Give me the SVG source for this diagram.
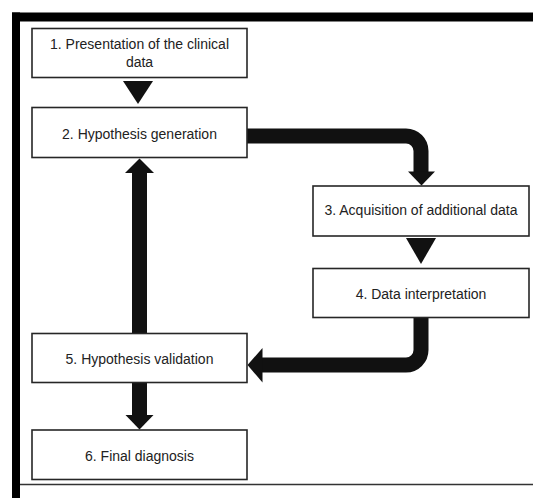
<svg xmlns="http://www.w3.org/2000/svg" width="533" height="498" viewBox="0 0 533 498">
<style>
.box{fill:#fff;stroke:#262626;stroke-width:1.6}
.t{font-family:"Liberation Sans",Arial,sans-serif;font-size:14px;fill:#222;text-anchor:middle}
.shaft{fill:none;stroke:#111;stroke-width:15}
.head{fill:#111}
</style>
<rect width="533" height="498" fill="#fff"/>
<g id="frame">
<rect x="12" y="12.5" width="521" height="9" fill="#000"/>
<rect x="12" y="12.5" width="8" height="486" fill="#000"/>
<line x1="20" y1="484.5" x2="533" y2="484.5" stroke="#333" stroke-width="1.6"/>
</g>
<g id="connectors">
<polygon class="head" points="123,81 153,81 138,104"/>
<polygon class="head" points="406,238 436,238 421,264"/>
<path class="shaft" d="M247,136 H406 A15 15 0 0 1 421,151 V172"/>
<polygon class="head" points="408,171.5 435,171.5 421.5,185.5"/>
<path class="shaft" d="M421,318 V350 A15 15 0 0 1 406,365 H261"/>
<polygon class="head" points="262.5,348 262.5,382.5 247.5,365"/>
<line class="shaft" x1="139.5" y1="333" x2="139.5" y2="172"/>
<polygon class="head" points="125,173 154,173 139.5,158.5"/>
<line class="shaft" x1="139.5" y1="383" x2="139.5" y2="416"/>
<polygon class="head" points="125.5,415 153.5,415 139.5,429.5"/>
</g>
<g id="n1"><rect class="box" x="32" y="28.5" width="215" height="49"/><text class="t" x="139.5" y="48.5">1. Presentation of the clinical</text><text class="t" x="139.5" y="66.5">data</text></g>
<g id="n2"><rect class="box" x="32" y="107.5" width="215" height="50"/><text class="t" x="139.5" y="138.5">2. Hypothesis generation</text></g>
<g id="n3"><rect class="box" x="313" y="186" width="216" height="50"/><text class="t" x="421" y="215">3. Acquisition of additional data</text></g>
<g id="n4"><rect class="box" x="313" y="268.5" width="216" height="49"/><text class="t" x="421" y="298.5">4. Data interpretation</text></g>
<g id="n5"><rect class="box" x="32" y="333.5" width="215" height="49"/><text class="t" x="139.5" y="363.5">5. Hypothesis validation</text></g>
<g id="n6"><rect class="box" x="32" y="430" width="215" height="49.5"/><text class="t" x="139.5" y="460.5">6. Final diagnosis</text></g>
</svg>
